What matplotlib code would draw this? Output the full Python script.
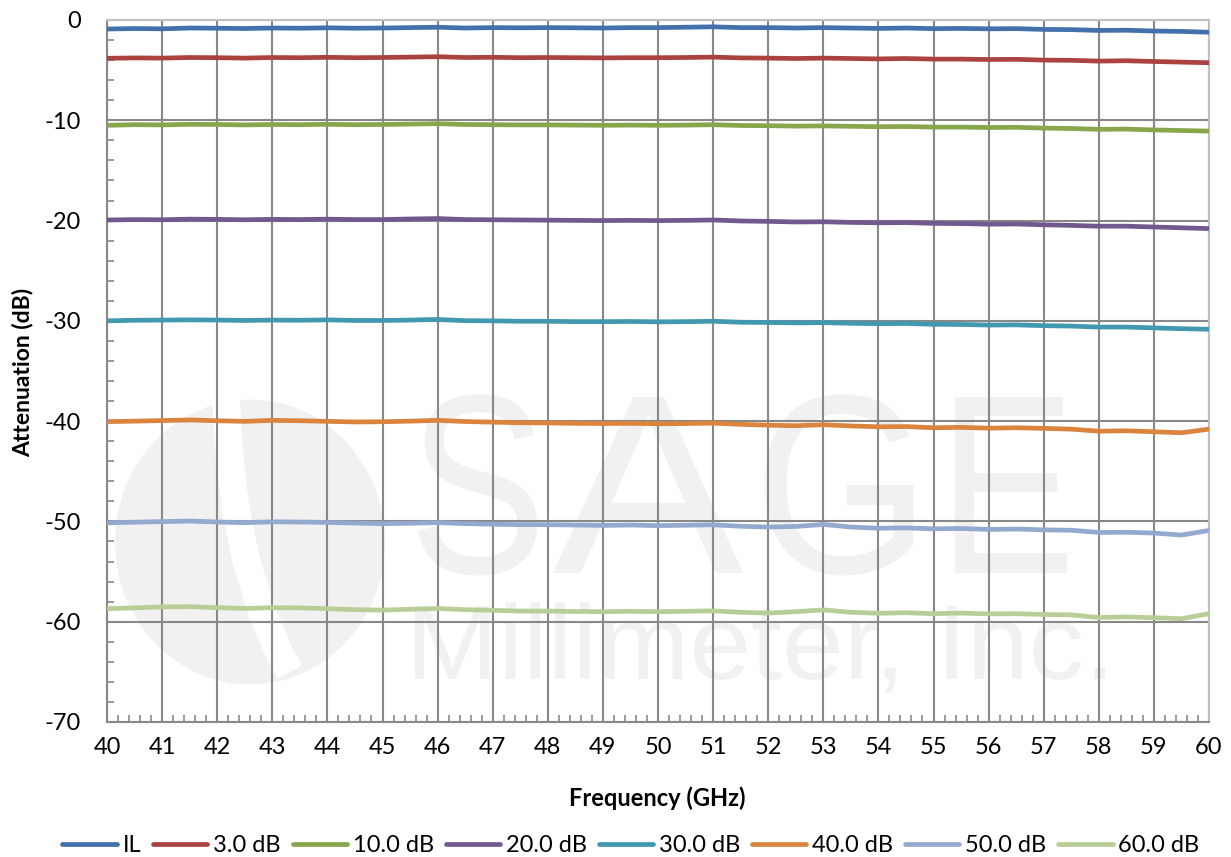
import matplotlib
matplotlib.use("Agg")
import matplotlib.pyplot as plt
from matplotlib.patches import Ellipse, PathPatch
from matplotlib.textpath import TextPath
from matplotlib.font_manager import FontProperties
from matplotlib.transforms import Affine2D
from matplotlib.ticker import MultipleLocator

plt.rcParams['font.family'] = ['Lato', 'DejaVu Sans']
plt.rcParams['axes.unicode_minus'] = False

freq = [40.0, 40.5, 41.0, 41.5, 42.0, 42.5, 43.0, 43.5, 44.0, 44.5, 45.0, 45.5, 46.0, 46.5,
        47.0, 47.5, 48.0, 48.5, 49.0, 49.5, 50.0, 50.5, 51.0, 51.5, 52.0, 52.5, 53.0, 53.5,
        54.0, 54.5, 55.0, 55.5, 56.0, 56.5, 57.0, 57.5, 58.0, 58.5, 59.0, 59.5, 60.0]

il = [-0.90, -0.85, -0.88, -0.80, -0.82, -0.85, -0.80, -0.82, -0.78, -0.82, -0.80, -0.76, -0.72, -0.80,
      -0.76, -0.78, -0.76, -0.78, -0.80, -0.76, -0.76, -0.72, -0.68, -0.76, -0.76, -0.80, -0.76, -0.80,
      -0.84, -0.80, -0.86, -0.84, -0.88, -0.86, -0.94, -0.96, -1.04, -1.02, -1.10, -1.14, -1.22]
att3 = [-3.82, -3.78, -3.80, -3.74, -3.76, -3.80, -3.74, -3.76, -3.72, -3.76, -3.74, -3.70, -3.66, -3.74,
        -3.72, -3.76, -3.74, -3.76, -3.78, -3.76, -3.76, -3.74, -3.70, -3.78, -3.80, -3.84, -3.80, -3.84,
        -3.88, -3.84, -3.90, -3.90, -3.94, -3.92, -4.00, -4.02, -4.10, -4.06, -4.14, -4.20, -4.26]
att10 = [-10.50, -10.44, -10.46, -10.40, -10.42, -10.46, -10.42, -10.44, -10.40, -10.44, -10.42, -10.38, -10.34, -10.42,
         -10.44, -10.46, -10.46, -10.48, -10.50, -10.48, -10.50, -10.48, -10.44, -10.52, -10.54, -10.58, -10.56, -10.60,
         -10.64, -10.62, -10.68, -10.68, -10.72, -10.70, -10.78, -10.82, -10.90, -10.88, -10.96, -11.02, -11.08]
att20 = [-19.94, -19.90, -19.92, -19.86, -19.88, -19.92, -19.88, -19.90, -19.86, -19.90, -19.90, -19.84, -19.80, -19.90,
         -19.92, -19.94, -19.96, -19.98, -20.00, -19.98, -20.00, -19.98, -19.94, -20.04, -20.08, -20.14, -20.12, -20.18,
         -20.22, -20.20, -20.28, -20.30, -20.36, -20.34, -20.42, -20.48, -20.56, -20.56, -20.64, -20.72, -20.80]
att30 = [-30.00, -29.94, -29.92, -29.90, -29.92, -29.96, -29.92, -29.94, -29.90, -29.96, -29.96, -29.92, -29.86, -29.98,
         -30.00, -30.04, -30.04, -30.08, -30.08, -30.06, -30.10, -30.08, -30.04, -30.14, -30.16, -30.20, -30.18, -30.24,
         -30.28, -30.26, -30.34, -30.36, -30.42, -30.40, -30.48, -30.52, -30.62, -30.62, -30.70, -30.78, -30.84]
att40 = [-40.05, -40.00, -39.94, -39.88, -39.96, -40.02, -39.92, -39.96, -40.02, -40.08, -40.06, -40.00, -39.92, -40.04,
         -40.10, -40.16, -40.18, -40.22, -40.24, -40.22, -40.26, -40.24, -40.20, -40.32, -40.40, -40.46, -40.36, -40.48,
         -40.56, -40.54, -40.66, -40.62, -40.70, -40.66, -40.72, -40.80, -41.00, -40.96, -41.06, -41.16, -40.80]
att50 = [-50.14, -50.08, -50.02, -49.96, -50.06, -50.12, -50.04, -50.06, -50.10, -50.16, -50.22, -50.18, -50.12, -50.22,
         -50.28, -50.32, -50.32, -50.36, -50.40, -50.36, -50.42, -50.38, -50.34, -50.48, -50.56, -50.50, -50.30, -50.56,
         -50.68, -50.64, -50.74, -50.70, -50.80, -50.76, -50.84, -50.88, -51.10, -51.08, -51.16, -51.36, -50.90]
att60 = [-58.70, -58.62, -58.52, -58.50, -58.60, -58.68, -58.60, -58.62, -58.70, -58.80, -58.84, -58.76, -58.68, -58.80,
         -58.86, -58.94, -58.94, -58.98, -59.00, -58.96, -59.00, -58.96, -58.92, -59.06, -59.14, -59.00, -58.82, -59.06,
         -59.16, -59.10, -59.20, -59.14, -59.22, -59.20, -59.28, -59.32, -59.58, -59.52, -59.60, -59.70, -59.20]

series_names = ["IL", "3.0 dB", "10.0 dB", "20.0 dB", "30.0 dB", "40.0 dB", "50.0 dB", "60.0 dB"]
series_data = [il, att3, att10, att20, att30, att40, att50, att60]
colors = ["#4170AA", "#AA4240", "#88A64C", "#71588F", "#4198AF", "#DB843D", "#93A9CF", "#B9CD96"]

x_ticks = list(range(40, 61))
y_ticks = [0, -10, -20, -30, -40, -50, -60, -70]

W, H = 1231, 857
AX_L, AX_R, AX_T, AX_B = 107, 1209, 20, 722

fig = plt.figure(figsize=(W / 100, H / 100), dpi=100)
ax = fig.add_axes([AX_L / W, 1 - AX_B / H, (AX_R - AX_L) / W, (AX_B - AX_T) / H])


def px2ax(px, py):
    return (px - AX_L) / (AX_R - AX_L), (AX_B - py) / (AX_B - AX_T)


# ---- watermark (logo + company name), very light grey ----
wm = "#F1F1F1"
cx, cy = px2ax(250, 542)
ax.add_patch(Ellipse((cx, cy), 270 / (AX_R - AX_L), 285 / (AX_B - AX_T), transform=ax.transAxes,
                     facecolor=wm, edgecolor="none", zorder=0.1))
band = [px2ax(px, py) for px, py in [(226, 398), (229, 450), (235, 505), (246, 560),
                                     (262, 612), (278, 650), (290, 672)]]
ax.plot([b[0] for b in band], [b[1] for b in band], transform=ax.transAxes, color="white",
        lw=20, solid_capstyle="butt", zorder=0.15)

fp = FontProperties(family="Liberation Sans")


def place_text(s, x0, x1, top, base, ref_cap="M"):
    tp = TextPath((0, 0), s, size=100, prop=fp)
    ext = tp.get_extents()
    cap = TextPath((0, 0), ref_cap, size=100, prop=fp).get_extents().ymax
    sx = (x1 - x0) / (ext.xmax - ext.xmin) / (AX_R - AX_L)
    sy = (base - top) / cap / (AX_B - AX_T)
    ox, oy = px2ax(x0, base)
    tr = Affine2D().translate(-ext.xmin, 0).scale(sx, sy).translate(ox, oy) + ax.transAxes
    ax.add_patch(PathPatch(tp, transform=tr, facecolor=wm, edgecolor="none", zorder=0.2))


for letter, x0, x1 in [("S", 418, 537), ("A", 553, 743), ("G", 765, 913), ("E", 955, 1067)]:
    place_text(letter, x0, x1, 397, 573, ref_cap="E")
place_text("Millimeter, Inc.", 415, 1105, 606, 679)

# ---- data ----
for name, vals, c in zip(series_names, series_data, colors):
    ax.plot(freq, vals, color=c, lw=3.4, label=name, solid_capstyle="round", zorder=3)

ax.set_xlim(40, 60)
ax.set_ylim(-70, 0)
ax.set_xticks(x_ticks)
ax.set_yticks(y_ticks)
ax.xaxis.set_minor_locator(MultipleLocator(0.2))
ax.yaxis.set_minor_locator(MultipleLocator(2))
ax.grid(True, which="major", color="#888888", lw=1.5)
ax.set_axisbelow(True)
ax.tick_params(axis="both", which="major", length=0, labelsize=17, colors="black")
ax.tick_params(axis="x", which="major", pad=11)
ax.tick_params(axis="y", which="major", pad=19)
ax.tick_params(axis="both", which="minor", direction="in", length=5, width=1.2, color="#888888")
for s in ["left", "bottom"]:
    ax.spines[s].set_color("#888888")
    ax.spines[s].set_linewidth(1.5)
for s in ["top", "right"]:
    ax.spines[s].set_color("#C0C0C0")
    ax.spines[s].set_linewidth(1.5)

fig.text(657 / W, 1 - 798 / H, "Frequency (GHz)", fontsize=17, fontweight="bold",
         ha="center", va="center")
fig.text(23 / W, 1 - 372 / H, "Attenuation (dB)", fontsize=16.5, fontweight="bold",
         ha="center", va="center", rotation=90)

fig.legend(loc="center", bbox_to_anchor=(631 / W, 1 - 846 / H), ncol=8, frameon=False,
           fontsize=17, handlelength=2.3, handletextpad=0.25, columnspacing=0.5)

fig.savefig("out.png", dpi=100)
